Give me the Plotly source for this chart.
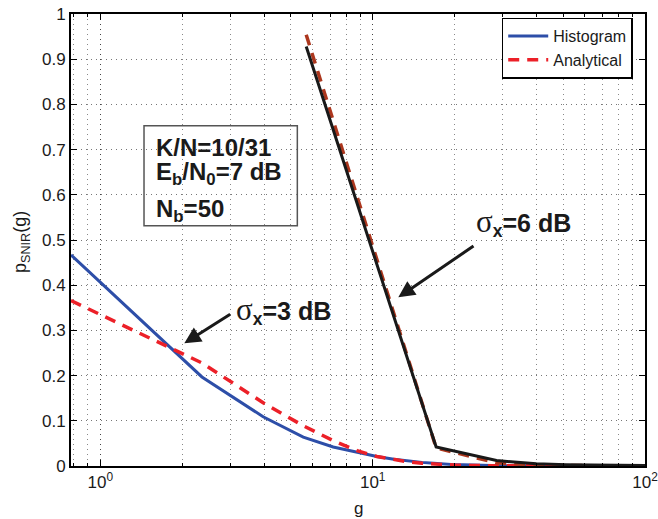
import plotly.graph_objects as go

# sigma_x = 3 dB: histogram bin centres (g) and densities
g_s3 = [0.78, 2.36, 3.96, 5.56, 7.16, 8.76, 10.36, 11.96, 13.56, 15.16,
        16.76, 18.36, 19.96, 21.56, 23.16, 24.76, 26.36, 27.96, 29.56, 100.0]
hist_s3 = [0.467, 0.197, 0.109, 0.064, 0.042, 0.031, 0.021, 0.015, 0.011, 0.008,
           0.006, 0.004, 0.003, 0.0025, 0.002, 0.0015, 0.001, 0.001, 0.0008, 0.0]
anal_s3 = [0.366, 0.228, 0.140, 0.089, 0.056, 0.034, 0.021, 0.014, 0.009, 0.006,
           0.004, 0.003, 0.002, 0.0015, 0.001, 0.0008, 0.0006, 0.0005, 0.0004, 0.0]

# sigma_x = 6 dB: histogram bin centres (g) and densities
g_s6 = [5.7, 17.1, 28.5, 39.9, 51.3, 62.7, 74.1, 85.5, 96.9, 108.3]
hist_s6 = [0.928, 0.042, 0.012, 0.005, 0.003, 0.002, 0.0015, 0.001, 0.001, 0.001]
anal_s6 = [0.954, 0.040, 0.007, 0.002, 0.001, 0.0005, 0.0003, 0.0002, 0.0001, 0.0001]

# axis ticks
x_ticks = [1, 10, 100]
x_ticklabels = ["10<sup>0</sup>", "10<sup>1</sup>", "10<sup>2</sup>"]
y_ticks = [0, 0.1, 0.2, 0.3, 0.4, 0.5, 0.6, 0.7, 0.8, 0.9, 1]
y_ticklabels = ["0", "0.1", "0.2", "0.3", "0.4", "0.5", "0.6", "0.7", "0.8", "0.9", "1"]

# annotation texts
param_lines = [
    "<b>K/N=10/31</b>",
    "<b>E<sub>b</sub>/N<sub>0</sub>=7 dB</b>",
    "<b>N<sub>b</sub>=50</b>",
]
SIGMA = "<span style='font-family:Liberation Serif;font-size:31px'>σ</span>"
sigma3_label = SIGMA + "<sub><b>x</b></sub><b>=3 dB</b>"
sigma6_label = SIGMA + "<sub><b>x</b></sub><b>=6 dB</b>"

FONT = "Liberation Sans, Arial, Helvetica, sans-serif"
BLUE = "rgb(45,78,168)"
RED = "rgb(236,32,40)"
BROWN = "rgb(172,55,30)"
BLACK = "rgb(25,25,25)"
TXT = "#1a1a1a"

fig = go.Figure()
fig.add_trace(go.Scatter(x=g_s3, y=hist_s3, mode="lines", name="Histogram",
                         line=dict(color=BLUE, width=3)))
fig.add_trace(go.Scatter(x=g_s3, y=anal_s3, mode="lines", name="Analytical",
                         line=dict(color=RED, width=3.5, dash="11px,8px")))
fig.add_trace(go.Scatter(x=g_s6, y=anal_s6, mode="lines", showlegend=False,
                         line=dict(color=BROWN, width=3.5, dash="11px,8px")))
fig.add_trace(go.Scatter(x=g_s6, y=hist_s6, mode="lines", showlegend=False,
                         line=dict(color=BLACK, width=3)))

annotations = []
# parameter box text, one line per annotation
for txt, yp in zip(param_lines, [0.7047, 0.6471, 0.5653]):
    annotations.append(dict(text=txt, xref="paper", yref="paper", x=0.1446, y=yp,
                            xanchor="left", yanchor="middle", showarrow=False,
                            font=dict(family=FONT, size=24, color=TXT)))
annotations.append(dict(text=sigma3_label, xref="paper", yref="paper", x=0.284, y=0.343,
                        xanchor="left", yanchor="middle", showarrow=False,
                        font=dict(family=FONT, size=25, color=TXT)))
annotations.append(dict(text=sigma6_label, xref="paper", yref="paper", x=0.702, y=0.538,
                        xanchor="left", yanchor="middle", showarrow=False,
                        font=dict(family=FONT, size=25, color=TXT)))
# arrows
annotations.append(dict(text="", xref="paper", yref="paper", x=0.1974, y=0.2715,
                        ax=47.4, ay=-30, showarrow=True, arrowhead=2, arrowsize=1.1,
                        arrowwidth=3, arrowcolor=TXT))
annotations.append(dict(text="", xref="paper", yref="paper", x=0.5702, y=0.3732,
                        ax=76.7, ay=-52.3, showarrow=True, arrowhead=2, arrowsize=1.1,
                        arrowwidth=3, arrowcolor=TXT))
# axis titles
annotations.append(dict(text="p<sub>SNIR</sub>(g)", xref="paper", yref="paper",
                        x=-0.086, y=0.495, textangle=-90, showarrow=False,
                        xanchor="center", yanchor="middle",
                        font=dict(family=FONT, size=18, color=TXT)))
annotations.append(dict(text="g", xref="paper", yref="paper", x=0.5, y=-0.095,
                        showarrow=False, xanchor="center", yanchor="middle",
                        font=dict(family=FONT, size=17, color=TXT)))

shapes = [dict(type="rect", xref="paper", yref="paper", x0=0.1272, x1=0.3943,
               y0=0.5316, y1=0.7529, line=dict(color="#555555", width=1.5),
               fillcolor="white", layer="below")]

grid_dash = "1px,4px"
fig.update_layout(
    width=658, height=519,
    margin=dict(l=71, r=13, t=14, b=53),
    paper_bgcolor="white", plot_bgcolor="white",
    font=dict(family=FONT, size=17, color=TXT),
    showlegend=True,
    legend=dict(x=0.9786, y=0.992, xanchor="right", yanchor="top",
                bgcolor="white", bordercolor="black", borderwidth=1.5,
                font=dict(family=FONT, size=16, color=TXT),
                tracegroupgap=0, itemwidth=40),
    annotations=annotations,
    shapes=shapes,
    xaxis=dict(type="log", range=[-0.1079, 2], automargin=False,
               ticklabeloverflow="allow",
               tickmode="array", tickvals=x_ticks, ticktext=x_ticklabels,
               ticks="inside", ticklen=6, tickwidth=1, tickcolor="black",
               showline=True, linecolor="black", linewidth=2, mirror="allticks",
               showgrid=True, gridcolor="#444444", griddash=grid_dash, gridwidth=1,
               zeroline=False,
               minor=dict(dtick="D1", ticks="inside", ticklen=3, tickcolor="black",
                          showgrid=True, gridcolor="#888888", griddash=grid_dash,
                          gridwidth=1),
               tickfont=dict(family=FONT, size=17, color=TXT)),
    yaxis=dict(range=[0, 1], automargin=False, ticklabeloverflow="allow",
               tickmode="array", tickvals=y_ticks, ticktext=y_ticklabels,
               ticks="inside", ticklen=6, tickwidth=1, tickcolor="black",
               showline=True, linecolor="black", linewidth=2, mirror="allticks",
               showgrid=True, gridcolor="#777777", griddash=grid_dash, gridwidth=1,
               zeroline=False,
               tickfont=dict(family=FONT, size=17, color=TXT)),
)

fig.write_html("out.html")
